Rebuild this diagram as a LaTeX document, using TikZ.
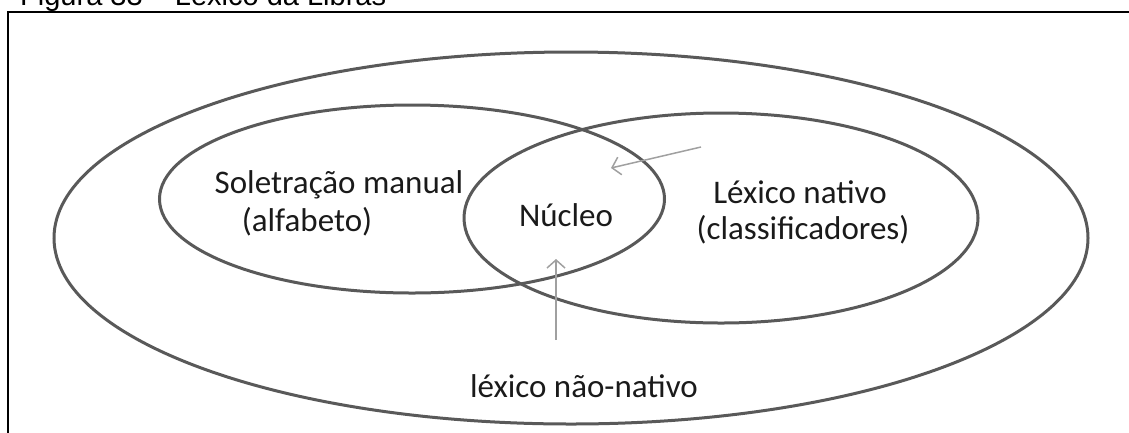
\documentclass[tikz,border=0pt]{standalone}
\usepackage{fontspec}
\setmainfont{Carlito}
\newfontfamily\titlefont{Liberation Sans}
\usetikzlibrary{shapes.geometric,arrows.meta}
\definecolor{ellgray}{HTML}{595959}
\definecolor{arrgray}{HTML}{A0A0A0}
\definecolor{txt}{HTML}{1A1A1A}
\begin{document}
\begin{tikzpicture}[x=1pt,y=-1pt,
  ell/.style={draw=ellgray,line width=3pt,shape=ellipse,inner sep=0pt},
  lbl/.style={text=txt,font=\fontsize{33}{38}\selectfont,inner sep=0pt,anchor=center},
  ptr/.style={draw=arrgray,line width=1.5pt,-{Straight Barb[length=8pt,width=18pt,line width=1.5pt]}}]
\useasboundingbox (0,0) rectangle (1129,432);
\begin{scope}
\clip (0,0) rectangle (1129,432);
\node[anchor=base west,inner sep=0pt,font=\titlefont\fontsize{29}{33}\selectfont] (title) at (20,5) {Figura 33 – Léxico da Libras};
\draw[line width=2.5pt] (1140,12) -| (8,440);
\end{scope}
\node[ell,minimum width=1034pt,minimum height=372pt] (outer) at (571,238) {};
\node[ell,minimum width=505pt,minimum height=188pt] (left) at (412,199) {};
\node[ell,minimum width=514pt,minimum height=210pt] (right) at (721,218) {};
\node[lbl] (sol) at (339,185) {Soletração manual};
\node[lbl] (alf) at (307,222) {(alfabeto)};
\node[lbl] (nuc) at (566,215) {Núcleo};
\node[lbl] (lex) at (800,192) {Léxico nativo};
\node[lbl] (cla) at (803,230) {(classificadores)};
\node[lbl] (nn) at (584,386) {léxico não-nativo};
\coordinate (a1s) at (701,147);
\coordinate (a1e) at (611,168);
\coordinate (a2s) at (556,340);
\coordinate (a2e) at (556,259);
\draw[ptr] (a1s) -- (a1e);
\draw[ptr] (a2s) -- (a2e);
\end{tikzpicture}
\end{document}
